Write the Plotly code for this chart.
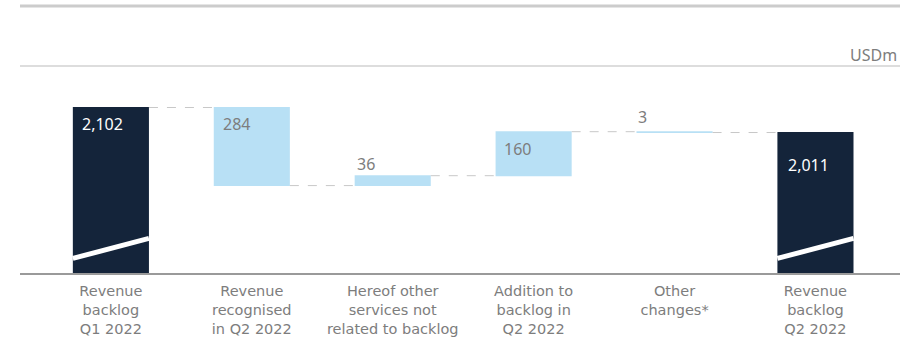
import plotly.graph_objects as go

categories = ["Revenue<br>backlog<br>Q1 2022", "Revenue<br>recognised<br>in Q2 2022",
              "Hereof other<br>services not<br>related to backlog", "Addition to<br>backlog in<br>Q2 2022",
              "Other<br>changes*", "Revenue<br>backlog<br>Q2 2022"]
values = [2102, -284, 36, 160, -3, 2011]
measures = ["absolute", "relative", "relative", "relative", "relative", "total"]
value_labels = ["2,102", "284", "36", "160", "3", "2,011"]
unit_label = "USDm"

DARK = "#14243a"
LIGHT = "#b8e0f5"
GRAY = "#7d7d7d"
FONT = "Noto Sans"
TICK_FONT = "DejaVu Sans"
BAR_W = 0.54
Y_MIN, Y_MAX = 1500, 2253

idx = list(range(len(categories)))

fig = go.Figure(go.Waterfall(
    x=idx, y=values, measure=measures, width=BAR_W,
    increasing=dict(marker=dict(color=LIGHT)),
    decreasing=dict(marker=dict(color=LIGHT)),
    totals=dict(marker=dict(color=DARK)),
    connector=dict(mode="between", line=dict(color="#c8c8c8", width=1, dash="dash")),
    hoverinfo="skip", textinfo="none",
))

# compute bar tops from data
tops = []
run = 0
for v, m in zip(values, measures):
    if m == "absolute":
        hi = v
        run = v
    elif m == "total":
        hi = run
    else:
        new = run + v
        hi = max(run, new)
        run = new
    tops.append(hi)

# label styling: (colour, yshift, xshift)
label_style = [
    ("white", -16, 7),
    (GRAY, -16, 7),
    (GRAY, 12, 0),
    (GRAY, -17, 6),
    (GRAY, 15, 0),
    ("white", -32, 9),
]
for i, (txt, (col, ys, xs)) in enumerate(zip(value_labels, label_style)):
    fig.add_annotation(x=i - BAR_W / 2, y=tops[i], text=txt, showarrow=False,
                       xanchor="left", yanchor="middle", xshift=xs, yshift=ys,
                       font=dict(family=FONT, size=16, color=col))

# axis-break slashes on the total bars
for i, m in enumerate(measures):
    if m in ("absolute", "total"):
        fig.add_shape(type="line", xref="x", yref="y",
                      x0=i - BAR_W / 2, x1=i + BAR_W / 2, y0=Y_MIN + 53, y1=Y_MIN + 126,
                      line=dict(color="white", width=5))

# decorative rules (plot area spans page y 66..273)
fig.add_shape(type="line", xref="paper", yref="paper", x0=0, x1=1, y0=1.29, y1=1.29,
              line=dict(color="#cccccc", width=3))
fig.add_shape(type="line", xref="paper", yref="paper", x0=0, x1=1, y0=1.0, y1=1.0,
              line=dict(color="#dddddd", width=2))
fig.add_annotation(xref="paper", yref="paper", x=1, y=1.053, xanchor="right", yanchor="middle",
                   text=unit_label, showarrow=False, xshift=-1,
                   font=dict(family=FONT, size=16, color=GRAY))

fig.update_layout(
    width=921, height=338,
    margin=dict(l=20, r=21, t=66, b=65),
    paper_bgcolor="white", plot_bgcolor="white",
    showlegend=False,
    font=dict(family=FONT, size=15, color=GRAY),
    xaxis=dict(tickmode="array", tickvals=idx, ticktext=categories,
               range=[-0.645, 5.6], showgrid=False, zeroline=False, automargin=False,
               showline=True, linecolor="#9a9a9a", linewidth=2, ticks="",
               ticklabelstandoff=4,
               tickfont=dict(family=TICK_FONT, size=14.5, color=GRAY)),
    yaxis=dict(range=[Y_MIN, Y_MAX], visible=False, showgrid=False, zeroline=False,
               automargin=False),
)

fig.write_html("out.html", config={"displayModeBar": False, "staticPlot": True},
               post_script="document.body.style.margin='0';document.body.style.overflow='hidden';")
